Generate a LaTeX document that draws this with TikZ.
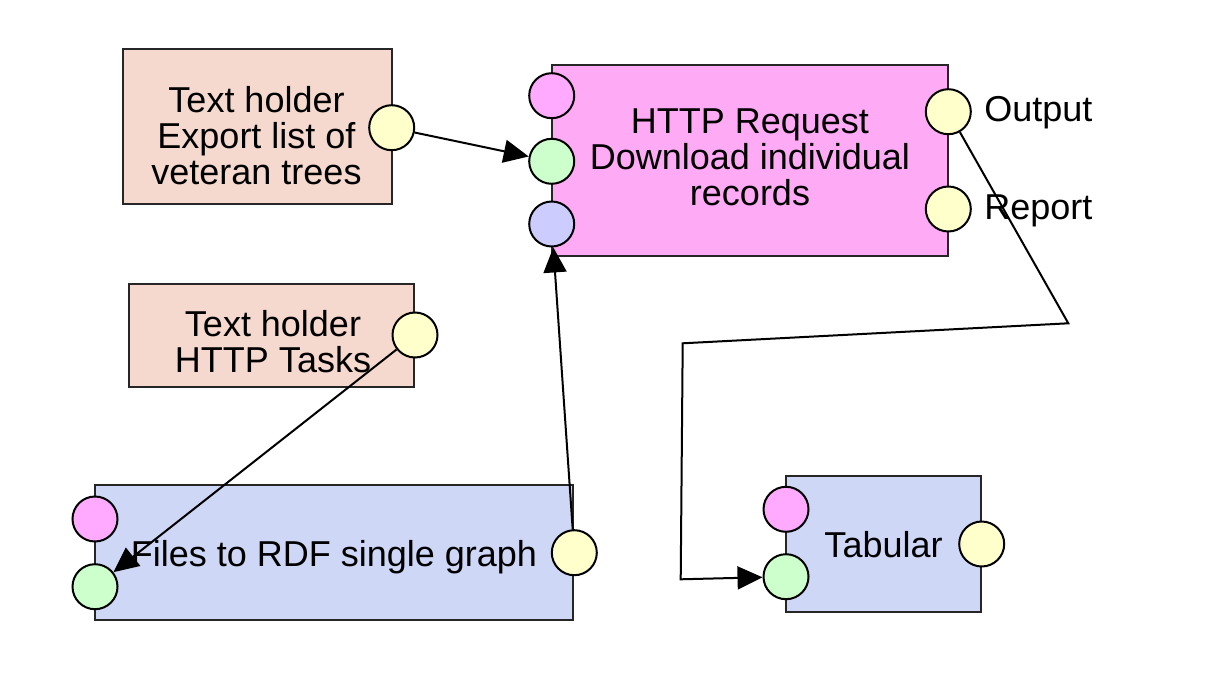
\documentclass[tikz,border=0pt]{standalone}
\usepackage{fontspec}
\setmainfont{Liberation Sans}
\usetikzlibrary{arrows.meta}

\definecolor{holderfill}{HTML}{F5D8CE}
\definecolor{httpfill}{HTML}{FFAAF5}
\definecolor{procfill}{HTML}{CED7F5}
\definecolor{portyellow}{HTML}{FFFFCC}
\definecolor{portgreen}{HTML}{CCFFCC}
\definecolor{portpink}{HTML}{FFAAFF}
\definecolor{portblue}{HTML}{CCCCFF}

\begin{document}
\begin{tikzpicture}[x=1pt, y=-1pt, line width=2pt,
        box/.style={shape=rectangle, draw=black!85, line width=2pt, inner sep=0pt},
        port/.style={shape=circle, draw=black, line width=2pt, minimum size=45pt, inner sep=0pt},
        txt/.style={align=center, inner sep=0pt, anchor=north, font=\fontsize{36}{36}\selectfont},
        >={Triangle[length=25pt, width=23pt]}]
        \useasboundingbox (0,0) rectangle (1206,676);

        \node[box, fill=holderfill, minimum width=269pt, minimum height=155pt] (A) at (257,126.7) {};
        \node[port, fill=portyellow] (Aout) at (391.7,127.7) {};

        \node[box, fill=holderfill, minimum width=285pt, minimum height=103pt] (B) at (271.5,335) {};
        \node[port, fill=portyellow] (Bout) at (415,335) {};

        \node[box, fill=httpfill, minimum width=396.6pt, minimum height=190.7pt] (H) at (750,160.4) {};
        \node[port, fill=portpink] (Hp) at (551.7,95.7) {};
        \node[port, fill=portgreen] (Hg) at (551.7,161.3) {};
        \node[port, fill=portblue] (Hb) at (551.7,224) {};
        \node[port, fill=portyellow] (Hout) at (948.3,111.7) {};
        \node[port, fill=portyellow] (Hrep) at (948.3,209) {};

        \node[box, fill=procfill, minimum width=478.5pt, minimum height=135pt] (F) at (334.2,552.5) {};
        \node[port, fill=portpink] (Fp) at (95,519) {};
        \node[port, fill=portgreen] (Fg) at (95,586.7) {};
        \node[port, fill=portyellow] (Fout) at (574.3,552.7) {};

        \node[box, fill=procfill, minimum width=195pt, minimum height=135.7pt] (T) at (883.5,543.8) {};
        \node[port, fill=portpink] (Tp) at (786,509.3) {};
        \node[port, fill=portgreen] (Tg) at (786,576.7) {};
        \node[port, fill=portyellow] (Tout) at (981.7,544) {};

        \node[txt] (At) at (256.5,85.9) {Text holder\\Export list of\\veteran trees};
        \node[txt] (Bt) at (273,309.2) {Text holder\\HTTP Tasks};
        \node[txt] (Ht) at (750,107.8) {HTTP Request\\Download individual\\records};
        \node[txt] (Ft) at (334,539.2) {Files to RDF single graph};
        \node[txt] (Tt) at (883.5,530.2) {Tabular};
        \node[txt, anchor=base west] (Olab) at (983.3,121.7) {Output};
        \node[txt, anchor=base west] (Rlab) at (983.3,219.3) {Report};

        \coordinate (c1) at (1068.3,323.3);
        \coordinate (c2) at (682.7,343.3);
        \coordinate (c3) at (680.7,579.3);

        \path [->] (Aout) edge (Hg);
        \path [->] (Bout) edge (Fg);
        \path [->] (Fout) edge (Hb);
        \draw [->] (Hout) -- (c1) -- (c2) -- (c3) -- (Tg);
    \end{tikzpicture}
\end{document}
